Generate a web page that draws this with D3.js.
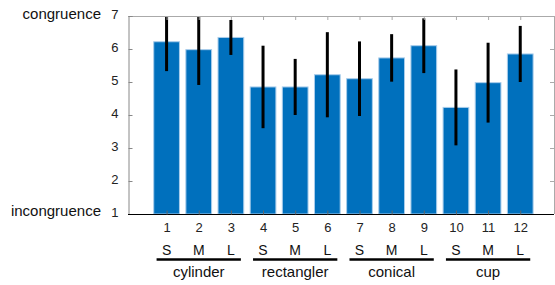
<!DOCTYPE html>
<html><head><meta charset="utf-8">
<script src="https://cdn.jsdelivr.net/npm/d3@7"></script>
<style>
html,body{margin:0;padding:0;background:#fff;}
text{font-family:"Liberation Sans",Arial,sans-serif;}
</style></head>
<body><svg id="c" width="555" height="285"></svg>
<script>
const categories = ["1","2","3","4","5","6","7","8","9","10","11","12"];
const sizes = ["S","M","L","S","M","L","S","M","L","S","M","L"];
const groups = ["cylinder","rectangler","conical","cup"];
const means = [6.22,5.98,6.35,4.85,4.85,5.22,5.10,5.73,6.10,4.23,4.98,5.85];
const errs  = [0.89,1.07,0.53,1.25,0.85,1.29,1.13,0.72,0.83,1.15,1.21,0.85];
const yTicks = [1,2,3,4,5,6,7];
const yEndLabels = ["incongruence","congruence"];

const svg = d3.select("#c");
const L = 128, R = 554, T = 16, B = 214;
const x = d3.scaleLinear().domain([-0.2, 13.05]).range([L, R]);
const y = d3.scaleLinear().domain([1, 7]).range([B, T]);
const barW = x(0.8) - x(0);

svg.append("defs").append("clipPath").attr("id","clip")
  .append("rect").attr("x",L).attr("y",T).attr("width",R-L).attr("height",B-T);

const g = svg.append("g");
g.append("g").selectAll("rect").data(means).join("rect")
  .attr("x",(d,i)=>x(i+1)-barW/2).attr("width",barW)
  .attr("y",d=>y(d)).attr("height",d=>B-y(d))
  .attr("fill","#0070bd").attr("stroke","#a9cdeb").attr("stroke-width",1);
g.append("g").attr("clip-path","url(#clip)").selectAll("line").data(means).join("line")
  .attr("x1",(d,i)=>x(i+1)).attr("x2",(d,i)=>x(i+1))
  .attr("y1",(d,i)=>y(d-errs[i])).attr("y2",(d,i)=>y(d+errs[i]))
  .attr("stroke","#000").attr("stroke-width",3);

svg.append("line").attr("x1",L).attr("x2",R).attr("y1",T+0.5).attr("y2",T+0.5).attr("stroke","#aaaaaa");
svg.append("line").attr("x1",R+0.5).attr("x2",R+0.5).attr("y1",T).attr("y2",B).attr("stroke","#aaaaaa");
const yAx = svg.append("g").attr("transform",`translate(${L+0.5},0)`)
  .call(d3.axisLeft(y).tickValues(yTicks).tickSize(-4).tickPadding(10).tickFormat(d3.format("d")));
yAx.select(".domain").attr("stroke","#888");
yAx.selectAll(".tick line").attr("stroke","#888");
yAx.selectAll("text").attr("font-size",13).attr("fill","#222").attr("dy","0.2em");
svg.append("g").selectAll("line").data(yTicks).join("line")
  .attr("x1",R).attr("x2",R-4).attr("y1",d=>y(d)+0.5).attr("y2",d=>y(d)+0.5).attr("stroke","#aaaaaa");
svg.append("g").selectAll("line").data(categories).join("line")
  .attr("x1",(d,i)=>x(i+1)+0.5).attr("x2",(d,i)=>x(i+1)+0.5).attr("y1",T).attr("y2",T+4).attr("stroke","#aaaaaa");
const xAx = svg.append("g").attr("transform",`translate(0,${B+0.5})`)
  .call(d3.axisBottom(x).tickValues(d3.range(1,13)).tickSize(-4).tickPadding(8).tickFormat((d)=>categories[d-1]));
xAx.select(".domain").attr("stroke","#000").attr("d",`M${L},0H${R}`);
xAx.selectAll(".tick line").attr("stroke","#666");
xAx.selectAll("text").attr("font-size",13).attr("fill","#222");

svg.append("text").attr("x",101).attr("y",y(7)+2.5).attr("text-anchor","end").attr("font-size",15).attr("fill","#111").text(yEndLabels[1]);
svg.append("text").attr("x",101).attr("y",y(1)+1.5).attr("text-anchor","end").attr("font-size",15).attr("fill","#111").text(yEndLabels[0]);

svg.append("g").selectAll("text").data(sizes).join("text")
  .attr("x",(d,i)=>x(i+1)).attr("y",255).attr("text-anchor","middle").attr("font-size",14).attr("fill","#111").text(d=>d);
groups.forEach((gname,k)=>{
  const a = x(3*k+1) - 10, b = x(3*k+3) + 10;
  svg.append("line").attr("x1",a).attr("x2",b).attr("y1",259.5).attr("y2",259.5).attr("stroke","#000").attr("stroke-width",2.5);
  svg.append("text").attr("x",x(3*k+2)).attr("y",277).attr("text-anchor","middle").attr("font-size",15).attr("fill","#111").text(gname);
});
</script></body></html>
